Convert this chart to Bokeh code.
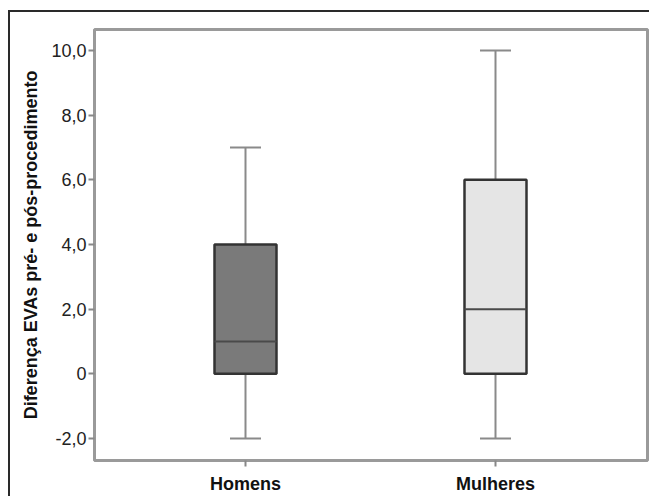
import numpy as np
from bokeh.plotting import figure
from bokeh.models import ColumnDataSource, FixedTicker, Range1d
from bokeh.embed import file_html
from bokeh.resources import INLINE

# ---- data ----
categories = ["Homens", "Mulheres"]
whisker_low = [-2.0, -2.0]
q1 = [0.0, 0.0]
median = [1.0, 2.0]
q3 = [4.0, 6.0]
whisker_high = [7.0, 10.0]
box_colors = ["#7a7a7a", "#e5e5e5"]
y_ticks = [-2, 0, 2, 4, 6, 8, 10]
y_tick_labels = ["-2,0", "0", "2,0", "4,0", "6,0", "8,0", "10,0"]

xpos = np.arange(1, len(categories) + 1, dtype=float)
box_w = 0.248
cap_w = 0.124

src = ColumnDataSource(dict(
    x=xpos, lo=whisker_low, q1=q1, med=median, q3=q3, hi=whisker_high,
    color=box_colors,
    bx0=xpos - box_w / 2, bx1=xpos + box_w / 2,
    cx0=xpos - cap_w / 2, cx1=xpos + cap_w / 2,
))

p = figure(width=649, height=496, output_backend="svg", toolbar_location=None,
           x_range=Range1d(0.396, 2.608), y_range=Range1d(-2.68, 10.65),
           min_border_left=94, min_border_right=2, min_border_top=29,
           min_border_bottom=35)
# outer dark border of the original figure (top and left edges)
p.styles = {
    "background-color": "white",
    "background-image": "linear-gradient(#2a2a2a, #2a2a2a), linear-gradient(#2a2a2a, #2a2a2a)",
    "background-size": "2px 100%, 100% 2px",
    "background-position": "8px 10px, 8px 10px",
    "background-repeat": "no-repeat",
}
p.border_fill_alpha = 0

p.xgrid.visible = False
p.ygrid.visible = False
p.outline_line_color = "#9a9a9a"
p.outline_line_width = 3
p.background_fill_color = "white"

# whiskers
p.segment(x0="x", y0="q3", x1="x", y1="hi", source=src, line_color="#8a8a8a", line_width=2)
p.segment(x0="x", y0="lo", x1="x", y1="q1", source=src, line_color="#8a8a8a", line_width=2)
p.segment(x0="cx0", y0="hi", x1="cx1", y1="hi", source=src, line_color="#8a8a8a", line_width=2)
p.segment(x0="cx0", y0="lo", x1="cx1", y1="lo", source=src, line_color="#8a8a8a", line_width=2)
# boxes
p.vbar(x="x", width=box_w, bottom="q1", top="q3", source=src, fill_color="color",
       line_color="#333333", line_width=2.5)
# medians
p.segment(x0="bx0", y0="med", x1="bx1", y1="med", source=src, line_color="#4a4a4a", line_width=2)

# axes
p.yaxis.ticker = FixedTicker(ticks=y_ticks)
p.yaxis.major_label_overrides = {t: l for t, l in zip(y_ticks, y_tick_labels)}
p.xaxis.ticker = FixedTicker(ticks=list(xpos))
overrides = {}
for x, c in zip(xpos, categories):
    overrides[float(x)] = c
    overrides[int(x)] = c
p.xaxis.major_label_overrides = overrides

for ax in (p.xaxis, p.yaxis):
    ax.axis_line_color = "#9a9a9a"
    ax.axis_line_width = 2
    ax.major_tick_line_color = "#888888"
    ax.major_tick_line_width = 2
    ax.minor_tick_line_color = None
    ax.major_tick_in = 0
    ax.major_tick_out = 6
    ax.major_label_text_font = "Liberation Sans"
    ax.major_label_text_color = "#222222"

p.yaxis.major_label_text_font_size = "18px"
p.yaxis.major_label_standoff = 2
p.yaxis.axis_label = "Diferença EVAs pré- e pós-procedimento"
p.yaxis.axis_label_text_font = "Liberation Sans"
p.yaxis.axis_label_text_font_style = "bold"
p.yaxis.axis_label_text_font_size = "18px"
p.yaxis.axis_label_text_color = "#111111"
p.yaxis.axis_label_standoff = 7

p.xaxis.major_label_text_font_size = "18px"
p.xaxis.major_label_text_font_style = "bold"
p.xaxis.major_label_text_color = "#111111"
p.xaxis.major_label_standoff = 7

open("out.html", "w").write(file_html(p, INLINE))
